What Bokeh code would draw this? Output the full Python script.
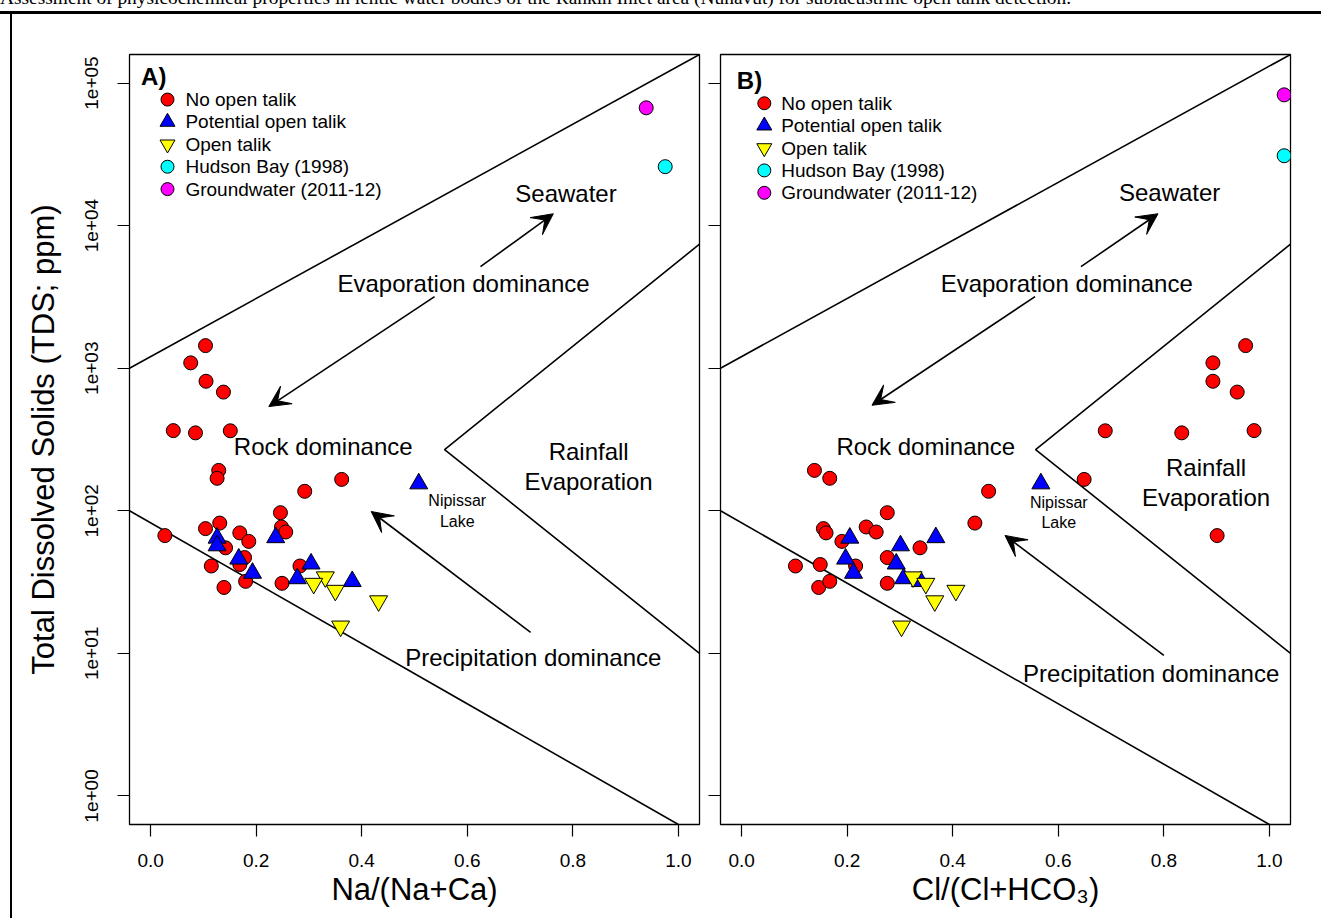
from bokeh.plotting import figure
from bokeh.models import FixedTicker, Arrow, VeeHead, Div
from bokeh.layouts import row, column
from bokeh.embed import file_html
from bokeh.resources import INLINE
from bokeh.core.properties import value

FONT = "Liberation Sans"

caption = ("Assessment of physicochemical properties in lentic water bodies of the "
           "Rankin Inlet area (Nunavut) for sublacustrine open talik detection.")

x_ticks = [0.0, 0.2, 0.4, 0.6, 0.8, 1.0]
x_tick_labels = ["0.0", "0.2", "0.4", "0.6", "0.8", "1.0"]
y_ticks = [1, 10, 100, 1000, 10000, 100000]
y_tick_labels = ["1e+00", "1e+01", "1e+02", "1e+03", "1e+04", "1e+05"]

# ---- data ----
# No open talik lakes
no_talik_na = [0.104, 0.076, 0.105, 0.138, 0.043, 0.085, 0.151, 0.129, 0.126, 0.362,
               0.292, 0.246, 0.131, 0.104, 0.027, 0.248, 0.256, 0.169, 0.186, 0.142,
               0.178, 0.115, 0.169, 0.139, 0.180, 0.249, 0.283]
no_talik_cl = [0.955, 0.893, 0.893, 0.939, 0.971, 0.834, 0.689, 0.138, 0.167, 0.649,
               0.468, 0.276, 0.442, 0.155, 0.901, 0.236, 0.255, 0.160, 0.190, 0.338,
               0.276, 0.102, 0.149, 0.146, 0.167, 0.276, 0.216]
no_talik_tds = [1440, 1090, 810, 680, 365, 352, 364, 192, 169, 166,
                137, 97, 82, 75, 67, 77, 71, 70, 61, 55,
                47, 41, 42, 29, 32, 31, 41]

# Potential open talik lakes
potential_na = [0.126, 0.126, 0.167, 0.193, 0.237, 0.304, 0.278, 0.382, 0.508]
potential_cl = [0.205, 0.301, 0.197, 0.212, 0.368, 0.293, 0.307, 0.339, 0.567]
potential_tds = [64.5, 57, 46, 36.6, 65, 42.5, 33.5, 32, 155]

# Open talik lakes
open_na = [0.331, 0.309, 0.350, 0.432, 0.360]
open_cl = [0.325, 0.349, 0.406, 0.366, 0.303]
open_tds = [34.3, 30.9, 27.6, 23.3, 15.5]

# Reference waters
hudson_na = [0.975]
hudson_tds_na = [25900]
hudson_cl = [1.028]
hudson_tds_cl = [30900]
ground_na = [0.939]
ground_tds_na = [67000]
ground_cl = [1.028]
ground_tds_cl = [82600]

# Gibbs boundary lines
upper_x = [-0.04, 1.04]
upper_y = [1000, 158489]
lower_x = [-0.04, 1.0]
lower_y = [100, 0.631]
chevron_x = [1.04, 0.557, 1.04]
chevron_y = [7413, 269, 10]

legend_labels = ["No open talik", "Potential open talik", "Open talik",
                 "Hudson Bay (1998)", "Groundwater (2011-12)"]
legend_colors = ["#FF0000", "#0000FF", "#FFFF00", "#00FFFF", "#FF00FF"]
legend_markers = ["circle", "triangle", "inverted_triangle", "circle", "circle"]
legend_sizes = [13, 15, 15, 13, 13]

# annotation texts: (label, x, log10 y)
notes_a = [("Seawater", 0.787, 4.227), ("Evaporation dominance", 0.593, 3.593),
           ("Rock dominance", 0.327, 2.448), ("Rainfall", 0.830, 2.416),
           ("Evaporation", 0.830, 2.205), ("Precipitation dominance", 0.725, 0.972)]
notes_b = [("Seawater", 0.811, 4.231), ("Evaporation dominance", 0.616, 3.593),
           ("Rock dominance", 0.349, 2.451), ("Rainfall", 0.880, 2.304),
           ("Evaporation", 0.880, 2.095), ("Precipitation dominance", 0.776, 0.860)]
lake_a = [("Nipissar", 0.581, 2.072), ("Lake", 0.581, 1.925)]
lake_b = [("Nipissar", 0.601, 2.055), ("Lake", 0.601, 1.921)]

# arrows: (x0, log y0, x1, log y1)
arrows_a = [(0.625, 3.712, 0.763, 4.083), (0.538, 3.502, 0.224, 2.731),
            (0.720, 1.147, 0.418, 1.995)]
arrows_b = [(0.643, 3.712, 0.789, 4.083), (0.556, 3.502, 0.247, 2.740),
            (0.800, 0.986, 0.499, 1.827)]


def make_panel(width, border_left, border_right, xs, ys, xlabel, ylabel,
               tag, tag_pos, legend_pos, notes, lake, arrows, show_ylabels):
    p = figure(width=width, height=900, x_range=(-0.04, 1.04),
               y_range=(10 ** -0.2, 10 ** 5.2), y_axis_type="log",
               output_backend="svg", toolbar_location=None,
               min_border_left=border_left, min_border_right=border_right,
               min_border_top=40, min_border_bottom=90)
    p.grid.visible = False
    p.outline_line_color = "black"
    p.outline_line_width = 1.3
    p.background_fill_color = "white"
    p.border_fill_color = "white"

    for ax in (p.xaxis[0], p.yaxis[0]):
        ax.major_tick_in = 0
        ax.major_tick_out = 12
        ax.major_tick_line_color = "black"
        ax.major_tick_line_width = 1.2
        ax.minor_tick_line_color = None
        ax.axis_line_color = None
        ax.major_label_text_font = FONT
        ax.major_label_text_font_size = "19px"
        ax.major_label_text_color = "black"
        ax.axis_label_text_font = FONT
        ax.axis_label_text_font_size = "31px"
        ax.axis_label_text_font_style = "normal"
        ax.axis_label_text_color = "black"

    p.xaxis.ticker = FixedTicker(ticks=x_ticks)
    p.xaxis.major_label_overrides = dict(zip(x_ticks, x_tick_labels))
    p.xaxis.major_label_standoff = 17
    p.xaxis.axis_label = xlabel
    p.xaxis.axis_label_standoff = 2

    p.yaxis.ticker = FixedTicker(ticks=y_ticks)
    if show_ylabels:
        p.yaxis.major_label_overrides = dict(zip(y_ticks, y_tick_labels))
        p.yaxis.major_label_orientation = "parallel"
        p.yaxis.major_label_standoff = 19
        p.yaxis.axis_label = ylabel
        p.yaxis.axis_label_standoff = 22
    else:
        p.yaxis.major_label_text_font_size = "1px"
        p.yaxis.major_label_text_color = None
        p.yaxis.major_label_standoff = 0

    # boundaries
    for bx, by in ((upper_x, upper_y), (lower_x, lower_y), (chevron_x, chevron_y)):
        p.line(bx, by, line_color="black", line_width=1.6)

    # arrows
    for x0, ly0, x1, ly1 in arrows:
        p.add_layout(Arrow(x_start=x0, y_start=10 ** ly0, x_end=x1, y_end=10 ** ly1,
                           line_color="black", line_width=1.6,
                           end=VeeHead(size=21, fill_color="black", line_color="black",
                                       line_width=1)))

    # points
    groups = [
        (xs[0], ys[0], "circle", 14, "#FF0000"),
        (xs[1], ys[1], "triangle", 18, "#0000FF"),
        (xs[2], ys[2], "inverted_triangle", 18, "#FFFF00"),
        (xs[3], ys[3], "circle", 14, "#00FFFF"),
        (xs[4], ys[4], "circle", 14, "#FF00FF"),
    ]
    for gx, gy, mk, sz, col in groups:
        p.scatter(gx, gy, marker=mk, size=sz, fill_color=col,
                  line_color="black", line_width=1)

    # region labels
    p.text([n[1] for n in notes], [10 ** n[2] for n in notes], text=[n[0] for n in notes],
           text_font=value(FONT), text_font_size="24px", text_align="center",
           text_baseline="middle", text_color="black")
    p.text([n[1] for n in lake], [10 ** n[2] for n in lake], text=[n[0] for n in lake],
           text_font=value(FONT), text_font_size="16px", text_align="center",
           text_baseline="middle", text_color="black")

    # panel tag
    p.text([tag_pos[0]], [10 ** tag_pos[1]], text=[tag], text_font=value(FONT),
           text_font_size="24px", text_font_style="bold", text_align="left",
           text_baseline="middle", text_color="black")

    # legend (drawn inside the panel, top-left)
    mx, tx, top, step = legend_pos
    for i, (lab, col, mk, sz) in enumerate(zip(legend_labels, legend_colors,
                                                legend_markers, legend_sizes)):
        yy = 10 ** (top - i * step)
        p.scatter([mx], [yy], marker=mk, size=sz, fill_color=col,
                  line_color="black", line_width=1)
        p.text([tx], [yy], text=[lab], text_font=value(FONT), text_font_size="19px",
               text_align="left", text_baseline="middle", text_color="black")
    return p


pa = make_panel(692, 117, 5,
                [no_talik_na, potential_na, open_na, hudson_na, ground_na],
                [no_talik_tds, potential_tds, open_tds, hudson_tds_na, ground_tds_na],
                "Na/(Na+Ca)", "Total Dissolved Solids (TDS; ppm)",
                "A)", (-0.018, 5.048), (0.032, 0.066, 4.884, 0.157),
                notes_a, lake_a, arrows_a, True)

pb = make_panel(617, 16, 31,
                [no_talik_cl, potential_cl, open_cl, hudson_cl, ground_cl],
                [no_talik_tds, potential_tds, open_tds, hudson_tds_cl, ground_tds_cl],
                "Cl/(Cl+HCO\u2083)", "",
                "B)", (-0.009, 5.019), (0.043, 0.075, 4.858, 0.157),
                notes_b, lake_b, arrows_b, False)

cap_div = Div(text=caption, width=1321, height=26, margin=(-12, 0, 0, 0),
              styles={"font-family": "Liberation Serif", "font-size": "19.4px",
                      "line-height": "19.4px", "white-space": "nowrap",
                      "border-bottom": "3px solid black", "box-sizing": "border-box",
                      "color": "black", "overflow": "hidden"})
left_line = Div(text="", width=2, height=904, margin=(0, 0, 0, 10),
                styles={"background-color": "black"})

layout = column(cap_div, row(left_line, pa, pb))

open("out.html", "w").write(file_html(layout, INLINE))
